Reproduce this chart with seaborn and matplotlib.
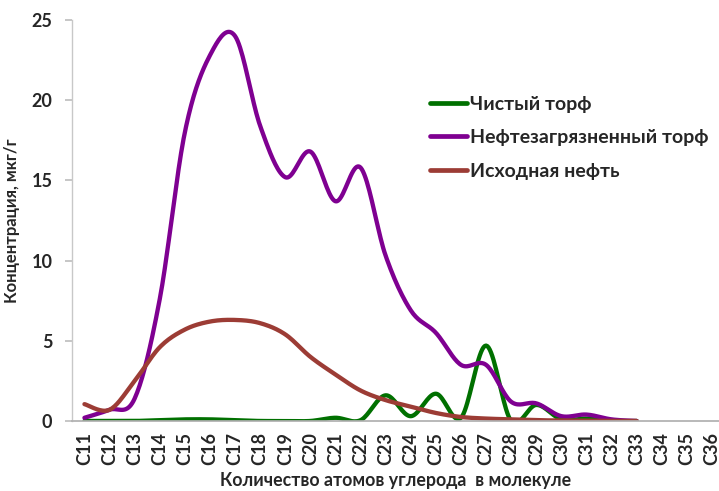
import numpy as np
import matplotlib
matplotlib.use("Agg")
import matplotlib.pyplot as plt
import seaborn as sns

sns.set_theme(style="white")
plt.rcParams['font.family'] = ['Lato', 'DejaVu Sans']

categories = ["C%d" % n for n in range(11, 37)]

# values (C11..C33)
clean_peat = [0.0, 0.0, 0.0, 0.05, 0.1, 0.1, 0.05, 0.0, 0.0, 0.0, 0.2, 0.05,
              1.6, 0.3, 1.7, 0.2, 4.7, 0.0, 1.0, 0.1, 0.15, 0.0, 0.0]
oil_peat = [0.2, 0.7, 1.4, 7.6, 18.0, 22.8, 24.0, 18.4, 15.2, 16.8, 13.7, 15.8,
            10.3, 6.9, 5.5, 3.5, 3.5, 1.2, 1.1, 0.3, 0.4, 0.1, 0.0]
crude_oil = [1.05, 0.7, 2.5, 4.6, 5.7, 6.2, 6.3, 6.1, 5.4, 4.0, 2.9, 1.9,
             1.3, 0.9, 0.5, 0.25, 0.15, 0.1, 0.05, 0.03, 0.02, 0.01, 0.0]

series = [("Чистый торф", clean_peat, "#007000"),
          ("Нефтезагрязненный торф", oil_peat, "#7f0091"),
          ("Исходная нефть", crude_oil, "#9c3c35")]


def smooth(y, steps=20):
    # Catmull-Rom style smoothing like Excel's "smoothed line"
    y = np.asarray(y, float)
    x = np.arange(len(y), dtype=float)
    xs, ys = [], []
    for i in range(len(y) - 1):
        p0 = (x[i - 1] if i > 0 else x[i], y[i - 1] if i > 0 else y[i])
        p1 = (x[i], y[i])
        p2 = (x[i + 1], y[i + 1])
        p3 = (x[i + 2], y[i + 2]) if i + 2 < len(y) else p2
        c1 = (p1[0] + (p2[0] - p0[0]) / 6, p1[1] + (p2[1] - p0[1]) / 6)
        c2 = (p2[0] - (p3[0] - p1[0]) / 6, p2[1] - (p3[1] - p1[1]) / 6)
        t = np.linspace(0, 1, steps, endpoint=False)
        for k in range(2):
            a, b, c, d = p1[k], c1[k], c2[k], p2[k]
            v = (1 - t) ** 3 * a + 3 * (1 - t) ** 2 * t * b + 3 * (1 - t) * t ** 2 * c + t ** 3 * d
            (xs if k == 0 else ys).append(v)
    xs.append([x[-1]])
    ys.append([y[-1]])
    return np.concatenate(xs), np.concatenate(ys)


fig = plt.figure(figsize=(7.19, 4.91), dpi=100)
ax = fig.add_axes([0.1, 0.1426, 0.9, 0.8166])

for name, vals, col in series:
    xs, ys = smooth(vals)
    sns.lineplot(x=xs, y=ys, ax=ax, color=col, lw=3.1, label=name, sort=False,
                 solid_capstyle="round")

ax.set_xlim(-0.5, 25.28)
ax.set_ylim(0, 25)
ax.set_yticks(range(0, 26, 5))
ax.set_xticks(range(len(categories)))
ax.set_xticklabels(categories, rotation=90, fontweight="bold", fontsize=13)
for lab in ax.get_yticklabels():
    lab.set_fontweight("bold")
    lab.set_fontsize(13)
ax.tick_params(axis="y", length=5, color="#bfbfbf", direction="out", left=True, pad=9)
ax.tick_params(axis="x", length=0, pad=8)
ax.set_ylabel("Концентрация, мкг/г", fontweight="bold", fontsize=12, labelpad=8)
ax.set_xlabel("Количество атомов углерода  в молекуле", fontweight="bold", fontsize=12.8, labelpad=5)

for s in ["top", "right"]:
    ax.spines[s].set_visible(False)
ax.spines["left"].set_color("#c8c8c8")
ax.spines["bottom"].set_color("#b0b0b0")
ax.spines["left"].set_linewidth(1)

leg = ax.legend(loc="upper left", bbox_to_anchor=(0.527, 0.855), frameon=False,
                prop={"weight": "bold", "size": 14}, handlelength=1.9,
                labelspacing=0.85, handletextpad=0.15)
for h in leg.get_lines():
    h.set_linewidth(3.4)

fig.savefig("out.png", dpi=100)
